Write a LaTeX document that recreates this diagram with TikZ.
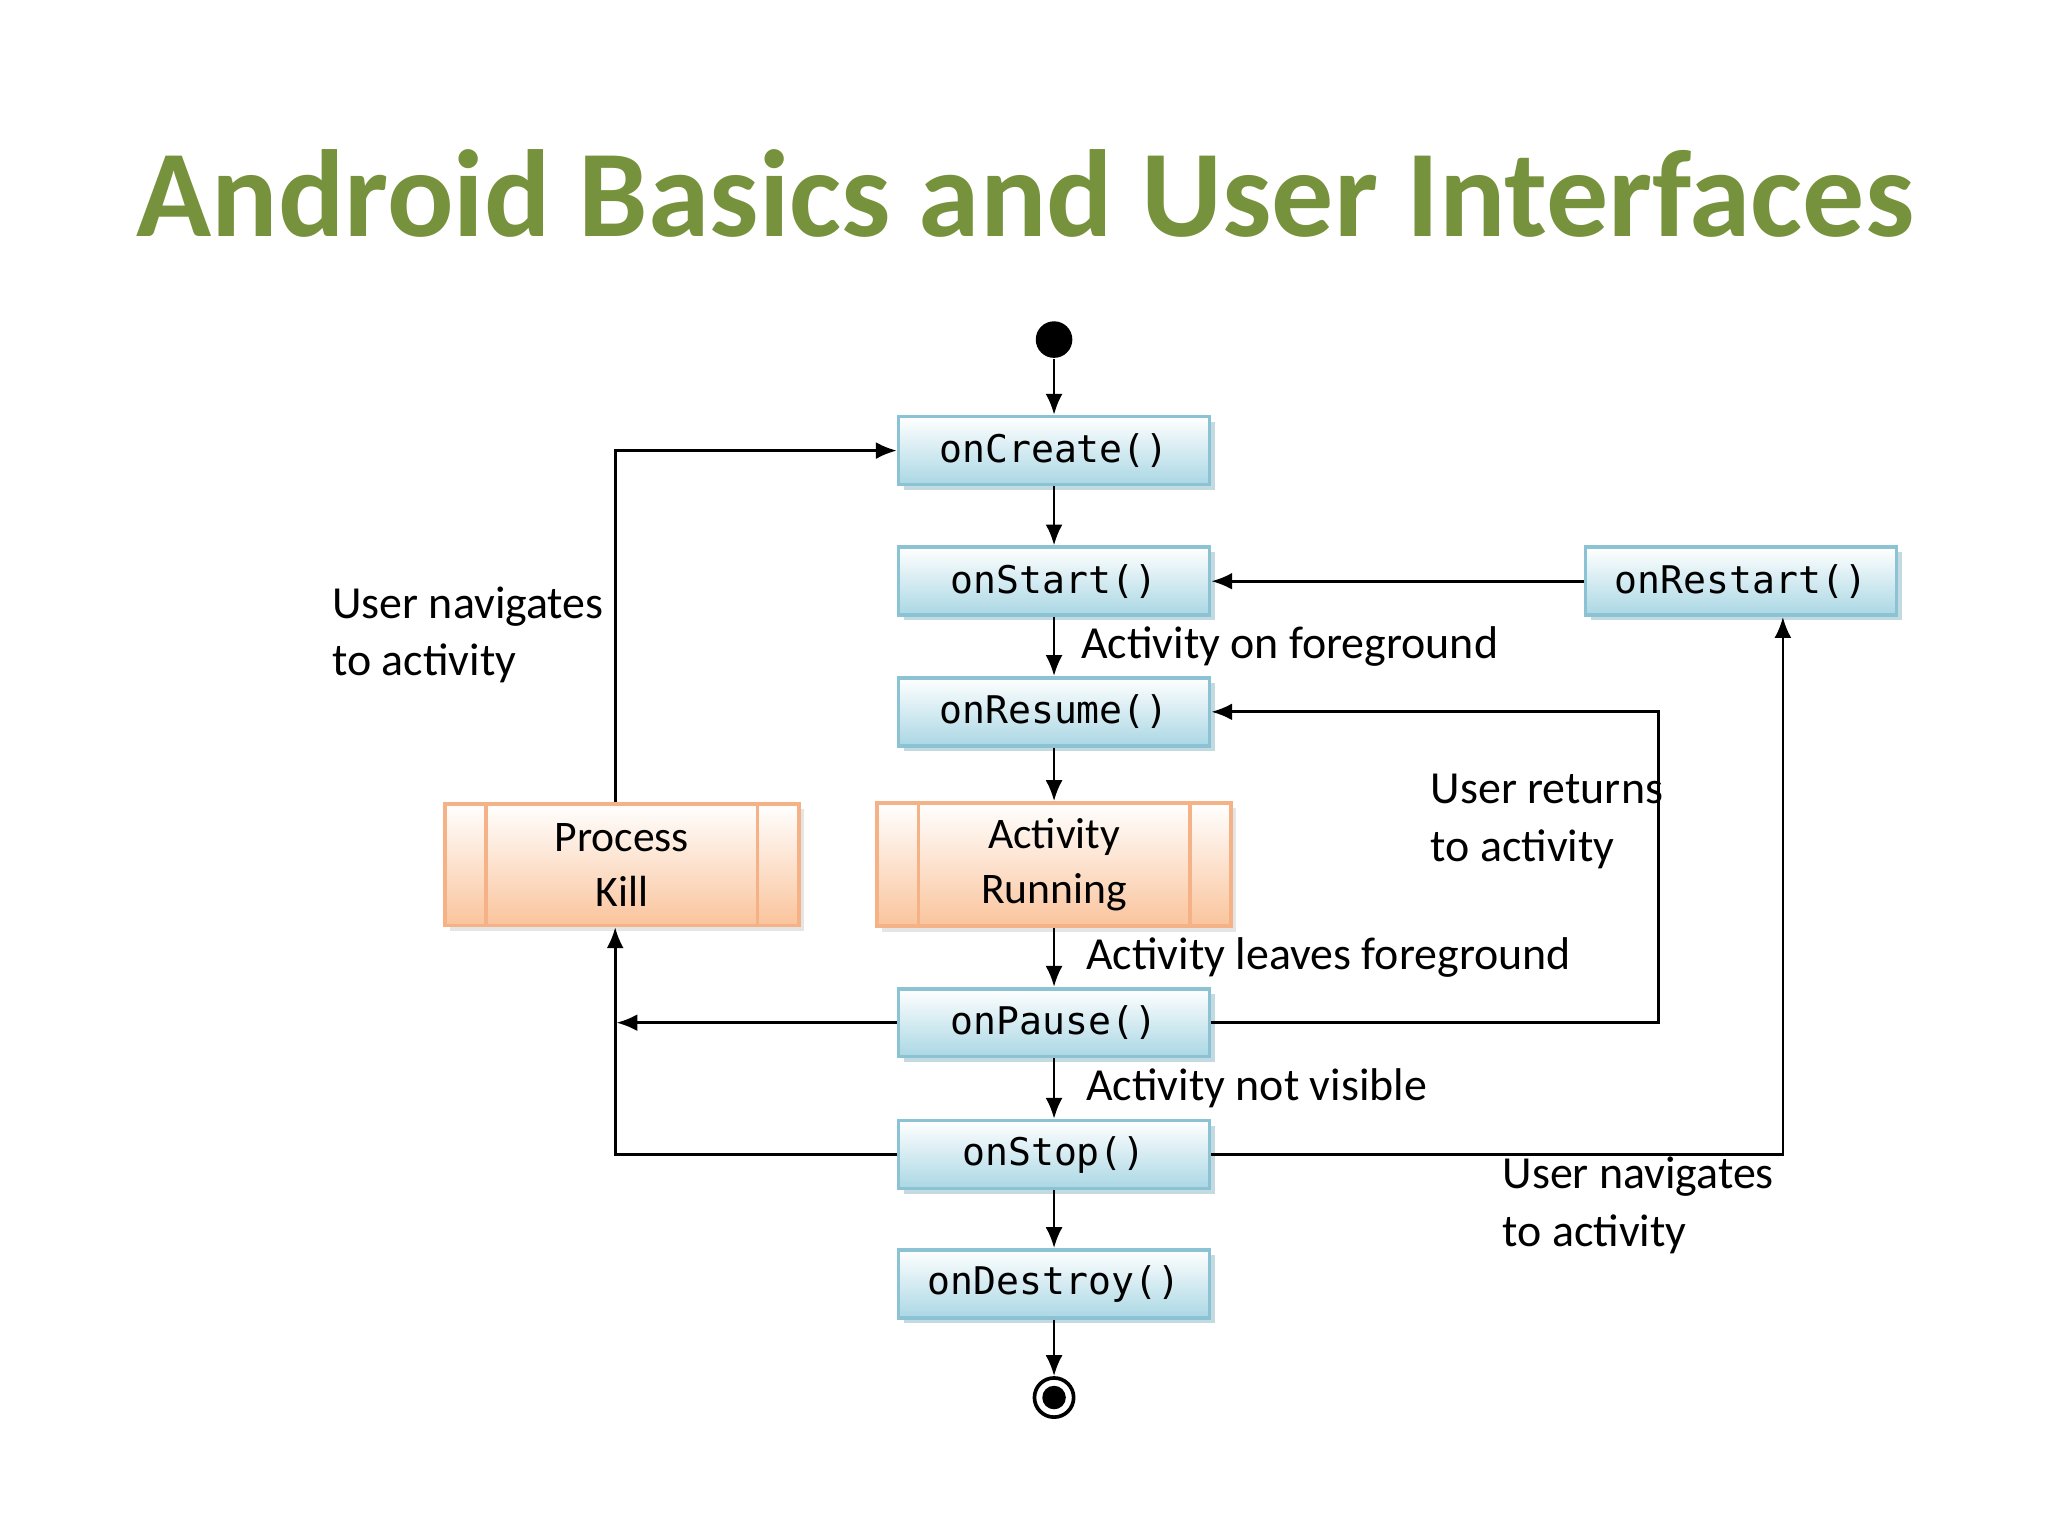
\documentclass[tikz,border=0pt]{standalone}
\usepackage{fontspec}
\setmainfont{Carlito}
\newfontfamily\boxfont{DejaVu Sans Mono}
\usetikzlibrary{positioning,shadows,arrows.meta}
\definecolor{titlegreen}{RGB}{118,146,60}
\definecolor{boxblue}{RGB}{170,215,228}
\definecolor{boxedge}{RGB}{140,195,212}
\definecolor{boxorange}{RGB}{250,196,156}
\definecolor{orangeedge}{RGB}{245,178,135}

\tikzset{
    call/.style={draw=boxedge, thick, top color=white, bottom color=boxblue,
        minimum width=2.38cm, minimum height=0.52cm, font=\boxfont\fontsize{8.3}{10}\selectfont,
        drop shadow={shadow xshift=0.04cm, shadow yshift=-0.04cm, fill=boxedge!80!gray}},
    state/.style={draw=orangeedge, thick, top color=white, bottom color=boxorange,
        minimum width=2.71cm, minimum height=0.93cm, align=center,
        font=\fontsize{9.5}{12}\selectfont,
        drop shadow={shadow xshift=0.04cm, shadow yshift=-0.04cm, fill=gray!40}},
    note/.style={font=\fontsize{10}{12.5}\selectfont, align=left, anchor=west},
    link/.style={-{Latex[length=0.16cm, width=0.13cm]}, semithick},
}

\begin{document}
\begin{tikzpicture}
    \useasboundingbox (0,0) rectangle (15.68,-11.76);
    \node[text=titlegreen, font=\bfseries\fontsize{27}{32}\selectfont] (title) at (7.85,-1.48) {Android Basics and User Interfaces};

    \node[circle, fill=black, inner sep=0pt, minimum size=0.28cm] (start) at (8.07,-2.60) {};
    \node[call] (create) at (8.07,-3.45) {onCreate()};
    \node[call] (startcall) at (8.07,-4.45) {onStart()};
    \node[call] (restart) at (13.33,-4.45) {onRestart()};
    \node[call] (resume) at (8.07,-5.45) {onResume()};
    \node[state] (running) at (8.07,-6.62) {Activity\\Running};
    \node[state] (kill) at (4.76,-6.62) {Process\\Kill};
    \node[call] (pause) at (8.07,-7.83) {onPause()};
    \node[call] (stop) at (8.07,-8.84) {onStop()};
    \node[call] (destroy) at (8.07,-9.83) {onDestroy()};
    \node[circle, draw=black, thick, inner sep=0pt, minimum size=0.3cm] (finish) at (8.07,-10.70) {};
    \fill (finish) circle (0.09);

    % inner bars of the state boxes
    \foreach \n in {running, kill} {
        \draw[orangeedge, thick] ([xshift=0.33cm]\n.north west) -- ([xshift=0.33cm]\n.south west);
        \draw[orangeedge, thick] ([xshift=-0.33cm]\n.north east) -- ([xshift=-0.33cm]\n.south east);
    }

    % main flow
    \draw[link] (start) -- (create);
    \draw[link] (create) -- (startcall);
    \draw[link] (startcall) -- node[note, right, xshift=0.08cm] {Activity on foreground} (resume);
    \draw[link] (resume) -- (running);
    \draw[link] (running) -- node[note, right, xshift=0.12cm] {Activity leaves foreground} (pause);
    \draw[link] (pause) -- node[note, right, xshift=0.12cm] {Activity not visible} (stop);
    \draw[link] (stop) -- (destroy);
    \draw[link] (destroy) -- (finish);

    % side paths
    \draw[link] (restart) -- (startcall);
    \draw[link] (stop.east) -| ([xshift=0.32cm]restart.south);
    \draw[link] (pause.east) -- (12.70,-7.83) |- (resume.east);
    \coordinate (killin) at (4.72,-7.83);
    \draw[link] (pause.west) -- (killin);
    \draw[link] (stop.west) -| ([xshift=-0.05cm]kill.south);
    \draw[link] ([xshift=-0.05cm]kill.north) |- (create.west);

    \node[note] (back) at (2.42,-4.86) {User navigates\\to activity};
    \node[note] (returns) at (10.83,-6.29) {User returns\\to activity};
    \node[note] (again) at (11.38,-9.23) {User navigates\\to activity};
\end{tikzpicture}
\end{document}
